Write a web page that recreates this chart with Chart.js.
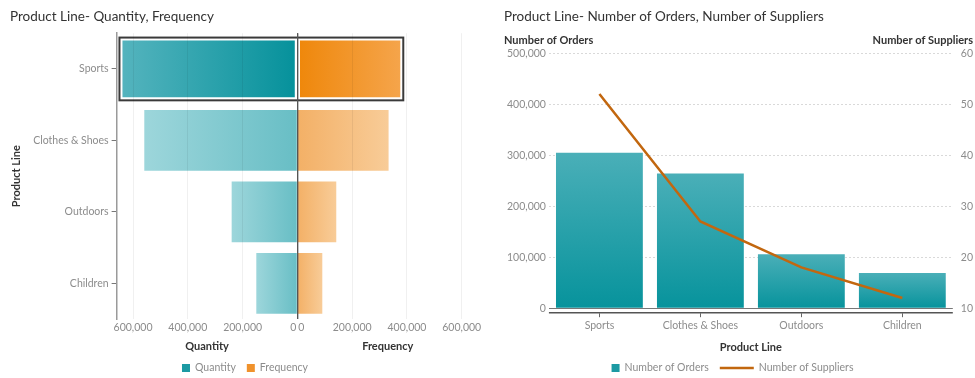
<!DOCTYPE html>
<html><head><meta charset="utf-8">
<script src="https://cdn.jsdelivr.net/npm/chart.js@4.4.1/dist/chart.umd.min.js"></script>
<style>
html,body{margin:0;padding:0;background:#fff;}
#wrap{position:relative;width:975px;height:378px;overflow:hidden;}
#box1{position:absolute;left:0;top:0;width:490px;height:378px;}
#box2{position:absolute;left:490px;top:0;width:485px;height:378px;}
</style></head>
<body>
<div id="wrap"><div id="box1"><canvas id="c1"></canvas></div><div id="box2"><canvas id="c2"></canvas></div></div>
<script>
// ---- data ----
const productLines = ['Sports', 'Clothes & Shoes', 'Outdoors', 'Children'];
const quantity = [646000, 559000, 240000, 150000];
const frequency = [383000, 333000, 142000, 91000];
const numberOfOrders = [305000, 264000, 106000, 69000];
const numberOfSuppliers = [52, 27, 18, 12];
const butterflyTicks = [0, 200000, 400000, 600000];
const selectedIndex = 0;

// ---- styles ----
const FONT = "Lato, 'Open Sans', sans-serif";
const TICK_COLOR = '#8c8c8c';
const DARK = '#333333';
const Q_SEL = ['#55b4be', '#05919b'];
const Q_FADE = ['#9dd6db', '#68bec5'];
const F_SEL = ['#f5a54c', '#ef870a'];
const F_FADE = ['#f8cc98', '#f3b066'];
const ORD = ['#4aafb8', '#07939c'];
const LINE_COLOR = '#c2670f';

Chart.defaults.font.family = FONT;
Chart.defaults.font.size = 10.5;
Chart.defaults.color = TICK_COLOR;

const fmt = v => Number(v).toLocaleString('en-US');

function barGradient(ctx, scaleId, colors, horizontal) {
  const chart = ctx.chart;
  if (ctx.type !== 'data' || !chart.chartArea || !chart.scales[scaleId]) return colors[1];
  const sc = chart.scales[scaleId];
  const pBase = sc.getPixelForValue(Math.max(0, sc.min));
  const pEnd = sc.getPixelForValue(ctx.raw);
  const g = horizontal ? chart.ctx.createLinearGradient(pEnd, 0, pBase, 0)
                       : chart.ctx.createLinearGradient(0, pEnd, 0, pBase);
  g.addColorStop(0, colors[0]);
  g.addColorStop(1, colors[1]);
  return g;
}

// legend drawn on canvas from dataset labels
const canvasLegend = {
  id: 'canvasLegend',
  afterDraw(chart) {
    const ctx = chart.ctx;
    const items = chart.data.datasets.map(d => d).sort((a, b) => a.legendOrder - b.legendOrder);
    const box = 8, lineW = 34, gap = 5, spacing = 11;
    ctx.save();
    ctx.font = '10.5px ' + FONT;
    const widths = items.map(it => (it.legendKind === 'line' ? lineW : box) + gap + ctx.measureText(it.label).width);
    const total = widths.reduce((a, b) => a + b, 0) + spacing * (items.length - 1);
    let x = chart.width / 2 - total / 2;
    const y = chart.height - 10;
    ctx.textBaseline = 'middle';
    ctx.textAlign = 'left';
    items.forEach(it => {
      if (it.legendKind === 'line') {
        ctx.strokeStyle = it.legendColor; ctx.lineWidth = 2.5;
        ctx.beginPath(); ctx.moveTo(x, y); ctx.lineTo(x + lineW, y); ctx.stroke();
        x += lineW;
      } else {
        ctx.fillStyle = it.legendColor;
        ctx.fillRect(x, y - box / 2, box, box);
        x += box;
      }
      x += gap;
      ctx.fillStyle = TICK_COLOR;
      ctx.fillText(it.label, x, y);
      x += ctx.measureText(it.label).width + spacing;
    });
    ctx.restore();
  }
};

// outline around the selected category's bars
const selectionOutline = {
  id: 'selectionOutline',
  afterDatasetsDraw(chart) {
    let l = Infinity, r = -Infinity, t = Infinity, b = -Infinity;
    chart.data.datasets.forEach((d, i) => {
      const el = chart.getDatasetMeta(i).data[selectedIndex];
      if (!el) return;
      const p = el.getProps(['x', 'y', 'base', 'height'], true);
      l = Math.min(l, p.x, p.base); r = Math.max(r, p.x, p.base);
      t = Math.min(t, p.y - p.height / 2); b = Math.max(b, p.y + p.height / 2);
    });
    const ctx = chart.ctx;
    ctx.save();
    ctx.strokeStyle = '#3a3a3a';
    ctx.lineWidth = 2;
    ctx.strokeRect(l - 1, t - 1, r - l + 2, b - t + 2);
    ctx.restore();
  }
};

const isZero = c => c.tick && c.tick.value === 0;
const setButterflyTicks = s => { s.ticks = butterflyTicks.map(v => ({ value: v })); };

new Chart(document.getElementById('c1'), {
  type: 'bar',
  data: {
    labels: productLines,
    datasets: [
      {
        label: 'Quantity', data: quantity, xAxisID: 'xQ', yAxisID: 'y', grouped: false,
        legendOrder: 0, legendKind: 'box', legendColor: '#1c9aa3',
        backgroundColor: c => barGradient(c, 'xQ', c.dataIndex === selectedIndex ? Q_SEL : Q_FADE, true),
        borderColor: c => c.dataIndex === selectedIndex ? '#ffffff' : 'rgba(0,0,0,0)',
        borderWidth: c => c.dataIndex === selectedIndex ? 2 : 0,
        borderSkipped: false, categoryPercentage: 1, barPercentage: 0.85
      },
      {
        label: 'Frequency', data: frequency, xAxisID: 'xF', yAxisID: 'y', grouped: false,
        legendOrder: 1, legendKind: 'box', legendColor: '#f0922c',
        backgroundColor: c => barGradient(c, 'xF', c.dataIndex === selectedIndex ? F_SEL : F_FADE, true),
        borderColor: c => c.dataIndex === selectedIndex ? '#ffffff' : 'rgba(0,0,0,0)',
        borderWidth: c => c.dataIndex === selectedIndex ? 2 : 0,
        borderSkipped: false, categoryPercentage: 1, barPercentage: 0.85
      }
    ]
  },
  options: {
    indexAxis: 'y', responsive: true, maintainAspectRatio: false, animation: false,
    layout: { padding: { left: 10, right: 10, top: 0, bottom: 25 } },
    scales: {
      xQ: {
        type: 'linear', position: 'bottom', stack: 'butterfly', stackWeight: 1, reverse: true,
        min: 0, max: 660000, bounds: 'data', afterBuildTicks: setButterflyTicks,
        ticks: { maxRotation: 0, padding: 2, autoSkip: false,
                 callback: v => v === 0 ? '0\u00a0\u00a0\u00a0' : fmt(v) },
        grid: { z: 1, drawTicks: false, color: c => isZero(c) ? '#555555' : 'rgba(0,0,0,0.06)', lineWidth: c => isZero(c) ? 1.2 : 1 },
        border: { display: false },
        title: { display: true, text: 'Quantity', color: DARK, font: { size: 11, weight: 'bold' }, padding: { top: 4, bottom: 0 } }
      },
      xF: {
        type: 'linear', position: 'bottom', stack: 'butterfly', stackWeight: 1,
        min: 0, max: 660000, bounds: 'data', afterBuildTicks: setButterflyTicks,
        ticks: { maxRotation: 0, padding: 2, autoSkip: false,
                 callback: v => v === 0 ? '\u00a0\u00a0\u00a00' : fmt(v) },
        grid: { z: 1, drawTicks: false, color: c => isZero(c) ? '#555555' : 'rgba(0,0,0,0.06)', lineWidth: c => isZero(c) ? 1.2 : 1 },
        border: { display: false },
        title: { display: true, text: 'Frequency', color: DARK, font: { size: 11, weight: 'bold' }, padding: { top: 4, bottom: 0 } }
      },
      y: {
        type: 'category', position: 'left',
        grid: { offset: false, drawOnChartArea: false, drawTicks: true, tickLength: 5, tickColor: '#777' },
        border: { display: true, color: '#9a9a9a', width: 1.5 },
        ticks: { padding: 3 },
        title: { display: true, text: 'Product Line', color: DARK, font: { size: 11, weight: 'bold' }, padding: { top: 0, bottom: 7 } }
      }
    },
    plugins: {
      title: { display: true, text: 'Product Line- Quantity, Frequency', align: 'start', color: '#333', font: { size: 13.5, weight: 'normal' }, padding: { top: 9, bottom: 8 } },
      legend: { display: false },
      tooltip: { enabled: false }
    }
  },
  plugins: [selectionOutline, canvasLegend]
});

// decorations for the combo chart: top axis titles, baseline and tick marks
const comboDecor = {
  id: 'comboDecor',
  afterDraw(chart) {
    const ctx = chart.ctx, a = chart.chartArea;
    const y0 = chart.scales.y, y1 = chart.scales.y1, x = chart.scales.x;
    ctx.save();
    ctx.font = 'bold 11px ' + FONT;
    ctx.fillStyle = DARK;
    ctx.textBaseline = 'middle';
    ctx.textAlign = 'left';
    ctx.fillText(y0.options.title.text, y0.left, a.top - 13);
    ctx.textAlign = 'right';
    ctx.fillText(y1.options.title.text, y1.right, a.top - 13);
    ctx.strokeStyle = '#555';
    ctx.lineWidth = 1.5;
    ctx.beginPath();
    ctx.moveTo(a.left, a.bottom + 4.5); ctx.lineTo(a.right, a.bottom + 4.5);
    ctx.stroke();
    ctx.lineWidth = 1;
    ctx.strokeStyle = '#666';
    x.ticks.forEach((t, i) => {
      const px = Math.round(x.getPixelForTick(i)) + 0.5;
      ctx.beginPath(); ctx.moveTo(px, a.bottom + 5); ctx.lineTo(px, a.bottom + 9); ctx.stroke();
    });
    ctx.restore();
  }
};

new Chart(document.getElementById('c2'), {
  data: {
    labels: productLines,
    datasets: [
      {
        type: 'bar', label: 'Number of Orders', data: numberOfOrders, yAxisID: 'y', order: 1,
        legendOrder: 0, legendKind: 'box', legendColor: '#1c9aa3',
        backgroundColor: c => barGradient(c, 'y', ORD, false),
        categoryPercentage: 1, barPercentage: 0.86
      },
      {
        type: 'line', label: 'Number of Suppliers', data: numberOfSuppliers, yAxisID: 'y1', order: 0,
        legendOrder: 1, legendKind: 'line', legendColor: LINE_COLOR,
        borderColor: LINE_COLOR, borderWidth: 2.5, pointRadius: 0, tension: 0, fill: false
      }
    ]
  },
  options: {
    responsive: true, maintainAspectRatio: false, animation: false,
    layout: { padding: { left: 14, right: 2, top: 0, bottom: 24 } },
    scales: {
      x: {
        type: 'category', position: 'bottom',
        grid: { display: false, drawTicks: false },
        border: { display: false },
        ticks: { padding: 11, maxRotation: 0 },
        title: { display: true, text: 'Product Line', color: DARK, font: { size: 11, weight: 'bold' }, padding: { top: -2, bottom: 0 } }
      },
      y: {
        type: 'linear', position: 'left', min: 0, max: 500000,
        ticks: { stepSize: 100000, padding: 3, callback: v => fmt(v) },
        grid: { drawTicks: false, color: c => isZero(c) ? '#777777' : '#d9d9d9', lineWidth: 1 },
        border: { display: false, dash: c => isZero(c) ? [] : [2, 2] },
        title: { display: false, text: 'Number of Orders' }
      },
      y1: {
        type: 'linear', position: 'right', min: 10, max: 60,
        ticks: { stepSize: 10, padding: 8, callback: v => fmt(v) },
        afterFit: s => { s.width -= 8; },
        grid: { drawOnChartArea: false, drawTicks: false },
        border: { display: false },
        title: { display: false, text: 'Number of Suppliers' }
      }
    },
    plugins: {
      title: { display: true, text: 'Product Line- Number of Orders, Number of Suppliers', align: 'start', color: '#333', font: { size: 13.5, weight: 'normal' }, padding: { top: 9, bottom: 28 } },
      legend: { display: false },
      tooltip: { enabled: false }
    }
  },
  plugins: [comboDecor, canvasLegend]
});
</script>
</body></html>
